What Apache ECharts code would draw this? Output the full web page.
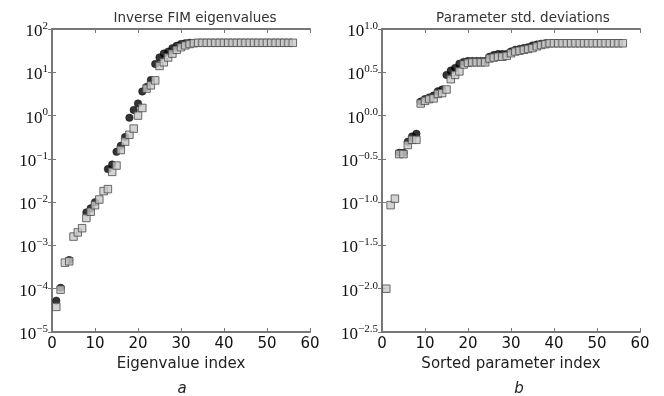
<!DOCTYPE html>
<html>
<head>
<meta charset="utf-8">
<script src="https://cdn.jsdelivr.net/npm/echarts@6/dist/echarts.min.js"></script>
<style>
html, body { margin: 0; padding: 0; background: #fff; }
#main { width: 664px; height: 396px; }
</style>
</head>
<body>
<div id="main"></div>
<script>
// panel a: inverse FIM eigenvalues (squares for index 1..56, circles where visible)
var fimSquareVals = [3.8e-5, 9.5e-5, 4.0e-4, 4.3e-4, 1.6e-3, 2.0e-3, 2.5e-3, 4.3e-3, 6.0e-3, 8.5e-3,
	1.15e-2, 1.8e-2, 2.0e-2, 0.05, 0.07, 0.16, 0.25, 0.36, 0.5, 1.0,
	1.5, 4.2, 5.0, 6.5, 14, 17, 22, 27, 33, 38,
	42, 45, 47, 48, 48, 48, 48, 48, 48, 48,
	48, 48, 48, 48, 48, 48, 48, 48, 48, 48,
	48, 48, 48, 48, 48, 48];
var fimCircleIdx = [1, 2, 4, 8, 9, 10, 13, 14, 15, 16, 17, 18, 19, 20, 21, 22, 23, 24, 25, 26, 27, 28, 29, 30, 31, 32];
var fimCircleVals = [5.3e-5, 1.05e-4, 4.6e-4, 5.8e-3, 7.2e-3, 1.0e-2, 0.058, 0.074, 0.145, 0.2,
	0.32, 0.89, 1.35, 1.9, 3.6, 4.6, 6.6, 15.5, 22, 27,
	30, 36, 41, 45, 47, 48];

// panel b: sorted parameter std. deviations
var sdSquareVals = [0.01, 0.0923, 0.1096, 0.359, 0.359, 0.457, 0.525, 0.525, 1.38, 1.48,
	1.55, 1.58, 1.78, 1.82, 2.0, 2.63, 2.95, 3.24, 3.89, 4.07,
	4.12, 4.12, 4.12, 4.12, 4.57, 4.68, 4.79, 4.79, 4.9, 5.25,
	5.5, 5.62, 5.75, 5.89, 6.03, 6.31, 6.53, 6.68, 6.84, 6.84,
	6.84, 6.84, 6.84, 6.84, 6.84, 6.84, 6.84, 6.84, 6.84, 6.84,
	6.84, 6.84, 6.84, 6.84, 6.84, 6.84];
var sdCircleIdx = [4, 5, 6, 7, 8, 9, 10, 11, 12, 13, 14, 15, 16, 17, 18, 19, 20, 21, 22, 23,
	24, 25, 26, 27, 28, 29, 30, 31, 32, 33, 34, 35, 36, 37, 38];
var sdCircleVals = [0.372, 0.372, 0.50, 0.575, 0.617, 1.45, 1.55, 1.62, 1.70, 1.91,
	2.0, 2.95, 3.31, 3.55, 3.98, 4.17, 4.27, 4.27, 4.27, 4.27,
	4.27, 4.79, 5.01, 5.13, 5.13, 5.13, 5.5, 5.75, 5.89, 6.03,
	6.17, 6.46, 6.61, 6.76, 6.84];

var xTicks = [0, 10, 20, 30, 40, 50, 60];

function pairsFromIndex(vals) {
	return vals.map(function(v, i) { return [i + 1, v]; });
}
function pairs(idx, vals) {
	return idx.map(function(x, i) { return [x, vals[i]]; });
}
function supText(e) {
	return '{b|10}{s|' + e.replace('-', '\u2212') + '}';
}

var frameColor = '#777';
var richLabel = {
	b: { fontFamily: 'Liberation Serif', fontSize: 17, lineHeight: 22, color: '#111' },
	s: { fontFamily: 'Liberation Serif', fontSize: 11, lineHeight: 11, verticalAlign: 'top', color: '#111' }
};

function xAxisFor(grid, name, top) {
	return {
		gridIndex: grid,
		type: 'value',
		min: xTicks[0],
		max: xTicks[xTicks.length - 1],
		interval: xTicks[1] - xTicks[0],
		position: top ? 'top' : 'bottom',
		axisLine: { show: true, onZero: false, lineStyle: { color: frameColor, width: 2 } },
		axisTick: { show: true, inside: true, length: 4, lineStyle: { color: frameColor, width: 1 } },
		axisLabel: top ? { show: false } : {
			show: true, margin: 5, color: '#111', fontFamily: 'DejaVu Sans', fontSize: 15
		},
		splitLine: { show: false },
		name: top ? '' : name,
		nameLocation: 'middle',
		nameGap: 21,
		nameTextStyle: { fontFamily: 'DejaVu Sans', fontSize: 15, color: '#222' }
	};
}

function yAxisFor(grid, base, min, max, right, fmt) {
	return {
		gridIndex: grid,
		type: 'log',
		logBase: base,
		min: min,
		max: max,
		position: right ? 'right' : 'left',
		axisLine: { show: true, lineStyle: { color: frameColor, width: 2 } },
		axisTick: { show: true, inside: true, length: 4, lineStyle: { color: frameColor, width: 1 } },
		axisLabel: right ? { show: false } : {
			show: true, margin: 4, padding: [5, 0, 0, 0], formatter: fmt, rich: richLabel
		},
		splitLine: { show: false }
	};
}

var fmtDecade = function(v) {
	return supText(String(Math.round(Math.log10(v))));
};
var fmtHalf = function(v) {
	return supText((Math.round(Math.log10(v) * 2) / 2).toFixed(1));
};

var squareStyle = { color: '#c8c8c8', borderColor: '#4a4a4a', borderWidth: 1 };
var circleStyle = { color: '#000', borderColor: '#000', borderWidth: 0.5 };

var myChart = echarts.init(document.getElementById('main'));
var option = {
	animation: false,
	backgroundColor: '#fff',
	title: [
		{ text: 'Inverse FIM eigenvalues', left: 190, top: 6, textAlign: 'center',
			textStyle: { fontFamily: 'DejaVu Sans', fontSize: 13.5, fontWeight: 'normal', color: '#333' } },
		{ text: 'Parameter std. deviations', left: 518, top: 6, textAlign: 'center',
			textStyle: { fontFamily: 'DejaVu Sans', fontSize: 13.5, fontWeight: 'normal', color: '#333' } },
		{ text: 'a', left: 177, top: 377, textAlign: 'center',
			textStyle: { fontFamily: 'DejaVu Sans', fontSize: 15, fontStyle: 'italic', fontWeight: 'normal', color: '#222' } },
		{ text: 'b', left: 514, top: 377, textAlign: 'center',
			textStyle: { fontFamily: 'DejaVu Sans', fontSize: 15, fontStyle: 'italic', fontWeight: 'normal', color: '#222' } }
	],
	grid: [
		{ left: 52, top: 29, width: 258, height: 303 },
		{ left: 382, top: 29, width: 258, height: 303 }
	],
	xAxis: [
		xAxisFor(0, 'Eigenvalue index', false),
		xAxisFor(0, '', true),
		xAxisFor(1, 'Sorted parameter index', false),
		xAxisFor(1, '', true)
	],
	yAxis: [
		yAxisFor(0, 10, 1e-5, 100, false, fmtDecade),
		yAxisFor(0, 10, 1e-5, 100, true),
		yAxisFor(1, Math.sqrt(10), Math.pow(10, -2.5), 10, false, fmtHalf),
		yAxisFor(1, Math.sqrt(10), Math.pow(10, -2.5), 10, true)
	],
	series: [
		{ type: 'scatter', xAxisIndex: 0, yAxisIndex: 0, symbol: 'circle', symbolSize: 7.5,
			itemStyle: circleStyle, data: pairs(fimCircleIdx, fimCircleVals), z: 2 },
		{ type: 'scatter', xAxisIndex: 0, yAxisIndex: 0, symbol: 'rect', symbolSize: 7.5,
			itemStyle: squareStyle, data: pairsFromIndex(fimSquareVals), z: 3 },
		{ type: 'scatter', xAxisIndex: 2, yAxisIndex: 2, symbol: 'circle', symbolSize: 7.5,
			itemStyle: circleStyle, data: pairs(sdCircleIdx, sdCircleVals), z: 2 },
		{ type: 'scatter', xAxisIndex: 2, yAxisIndex: 2, symbol: 'rect', symbolSize: 7.5,
			itemStyle: squareStyle, data: pairsFromIndex(sdSquareVals), z: 3 }
	],
	graphic: [
		// the source figure is cropped just right of the last tick label
		{ type: 'rect', left: 649, top: 330, shape: { width: 15, height: 30 }, style: { fill: '#fff' }, z: 100 }
	]
};
myChart.setOption(option);
window.onresize = myChart.resize;
</script>
</body>
</html>
